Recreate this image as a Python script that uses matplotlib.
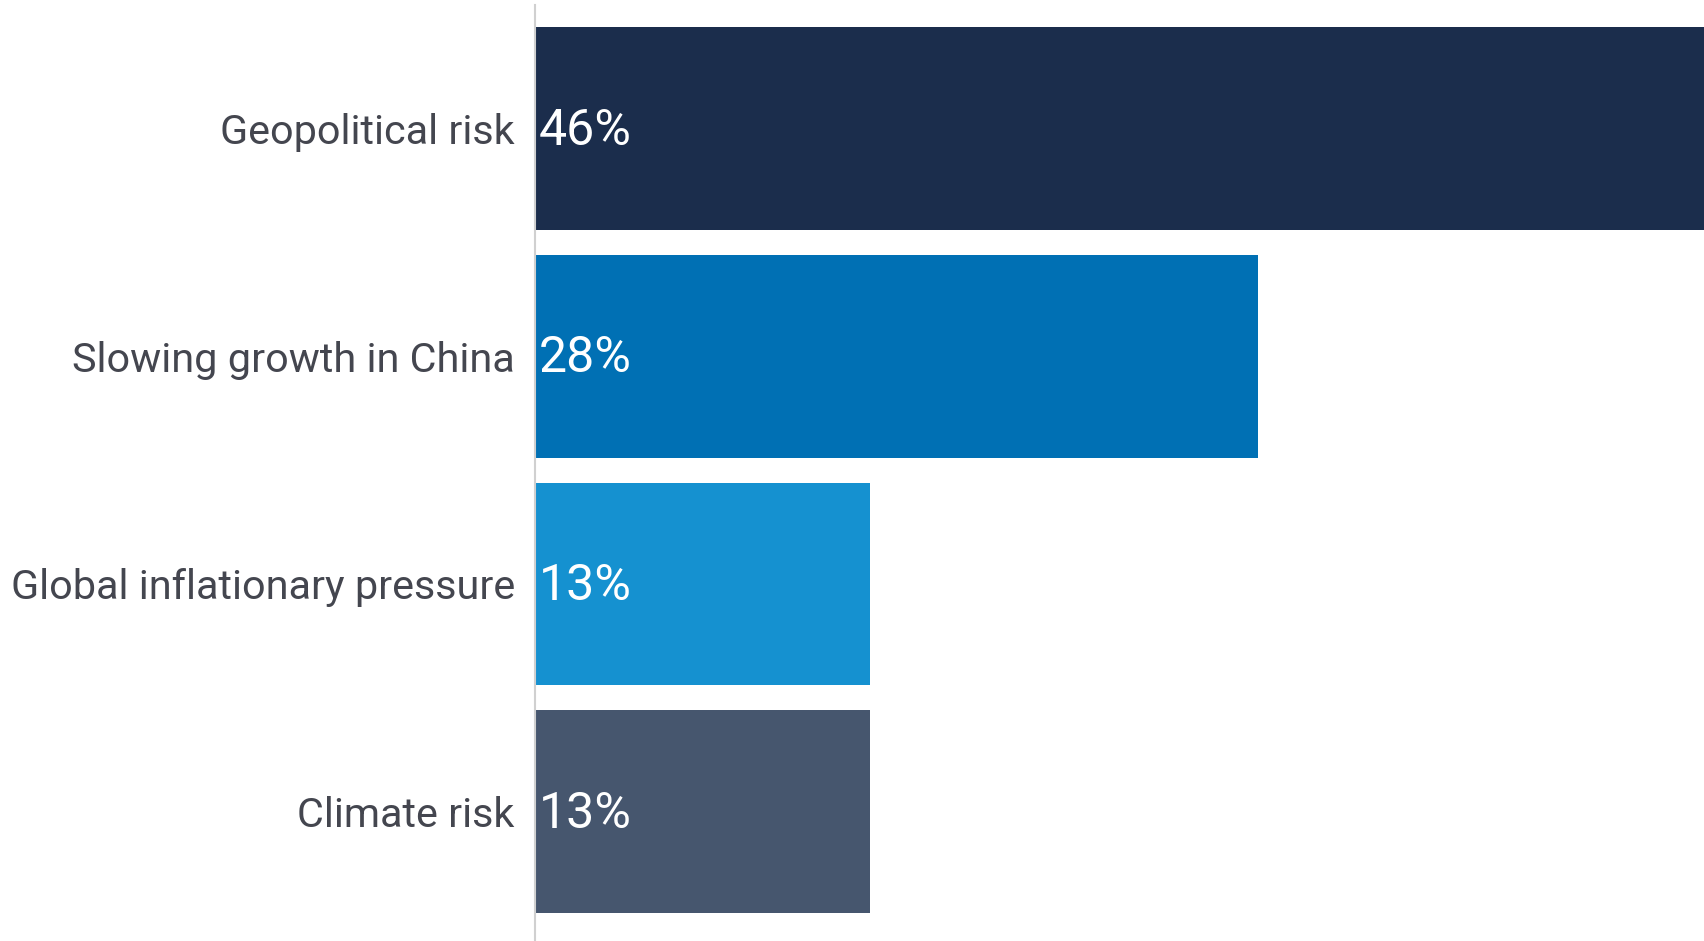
import matplotlib.pyplot as plt

categories = ["Geopolitical risk", "Slowing growth in China", "Global inflationary pressure", "Climate risk"]
values = [46, 28, 13, 13]
colors = ["#1b2d4c", "#0070b4", "#1591d0", "#46566e"]

plt.rcParams["font.family"] = ["Roboto", "DejaVu Sans"]

fig = plt.figure(figsize=(17.04, 9.41), dpi=100)
ax = fig.add_axes([535 / 1704, 0, 1 - 535 / 1704, 936 / 941])

y = range(len(categories))
ax.barh(y, values, height=0.89, color=colors)
for i, v in enumerate(values):
    ax.text(0.15, i + 0.01, f"{v}%", color="white", fontsize=36, va="center", ha="left")

ax.set_xlim(0, 45.3)
ax.set_ylim(3.568, -0.542)
ax.set_yticks(list(y))
ax.set_yticklabels(categories, fontsize=29.8, color="#44464f")
ax.tick_params(axis="y", length=0, pad=14.5)
ax.set_xticks([])
for s in ["top", "right", "bottom"]:
    ax.spines[s].set_visible(False)
ax.spines["left"].set_color("#d0d0d0")
ax.spines["left"].set_linewidth(1.5)

fig.savefig("out.png", dpi=100)
